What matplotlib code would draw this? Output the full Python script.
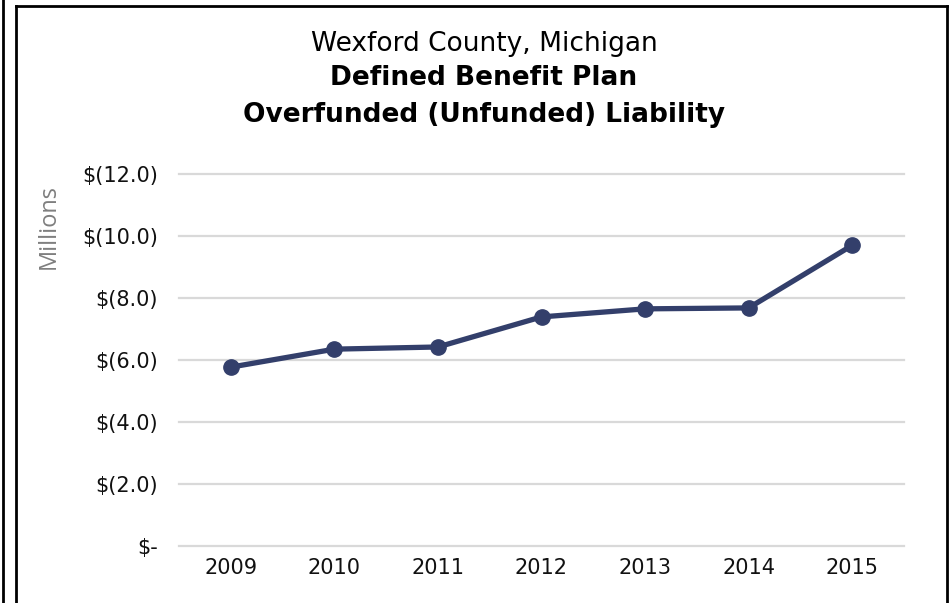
import matplotlib
matplotlib.use("Agg")
import matplotlib.pyplot as plt
from matplotlib.lines import Line2D
from matplotlib.ticker import FuncFormatter, MultipleLocator

years = ["2009", "2010", "2011", "2012", "2013", "2014", "2015"]
# overfunded (unfunded) liability, millions of dollars
liability = [-5.77, -6.35, -6.42, -7.39, -7.65, -7.68, -9.70]

lineColor = "#333f6b"


def fmtMoney(v, pos):
    if abs(v) < 1e-9:
        return "$-"
    if v < 0:
        return "$(%.1f)" % abs(v)
    return "$%.1f" % v


fig = plt.figure(figsize=(9.52, 6.03), dpi=100)
fig.patch.set_facecolor("white")

ax = fig.add_axes([179 / 952, 1 - 546 / 603, 725 / 952, 372 / 603])

xs = list(range(len(years)))
ax.plot(xs, liability, color=lineColor, linewidth=3.8, marker="o",
        markersize=11, solid_capstyle="round", zorder=3)

ax.set_xlim(-0.5, len(years) - 0.5)
ax.set_ylim(0, -12)
ax.set_xticks(xs)
ax.set_xticklabels(years)
ax.yaxis.set_major_locator(MultipleLocator(2))
ax.yaxis.set_major_formatter(FuncFormatter(fmtMoney))

ax.grid(axis="y", color="#d9d9d9", linewidth=1.6)
for gl in ax.get_ygridlines():
    gl.set_clip_on(False)
ax.set_axisbelow(True)
for s in ax.spines.values():
    s.set_visible(False)
ax.tick_params(axis="both", length=0, labelsize=15, labelcolor="#111111")
ax.tick_params(axis="y", pad=15)
ax.tick_params(axis="x", pad=9)

ax.set_ylabel("Millions", fontsize=17, color="#7f7f7f", family="Open Sans")
ax.yaxis.set_label_coords(-0.163, 0.86)

# titles
fig.text(484 / 952, 1 - 44 / 603, "Wexford County, Michigan", ha="center", va="center",
         fontsize=19, family="DejaVu Sans")
fig.text(484 / 952, 1 - 78 / 603, "Defined Benefit Plan", ha="center", va="center",
         fontsize=19, fontweight="bold", family="DejaVu Sans")
fig.text(484 / 952, 1 - 115 / 603, "Overfunded (Unfunded) Liability", ha="center", va="center",
         fontsize=19, fontweight="bold", family="DejaVu Sans")

# frame lines around the chart
W, H = 952, 603
frame = [
    ([2.5 / W, 2.5 / W], [0, 1]),
    ([16 / W, 16 / W], [0, 1 - 5.5 / H]),
    ([16 / W, 946.5 / W], [1 - 5.5 / H, 1 - 5.5 / H]),
    ([946.5 / W, 946.5 / W], [0, 1 - 5.5 / H]),
]
for fx, fy in frame:
    fig.add_artist(Line2D(fx, fy, transform=fig.transFigure, color="black", linewidth=2))

fig.savefig("out.png", dpi=100)
